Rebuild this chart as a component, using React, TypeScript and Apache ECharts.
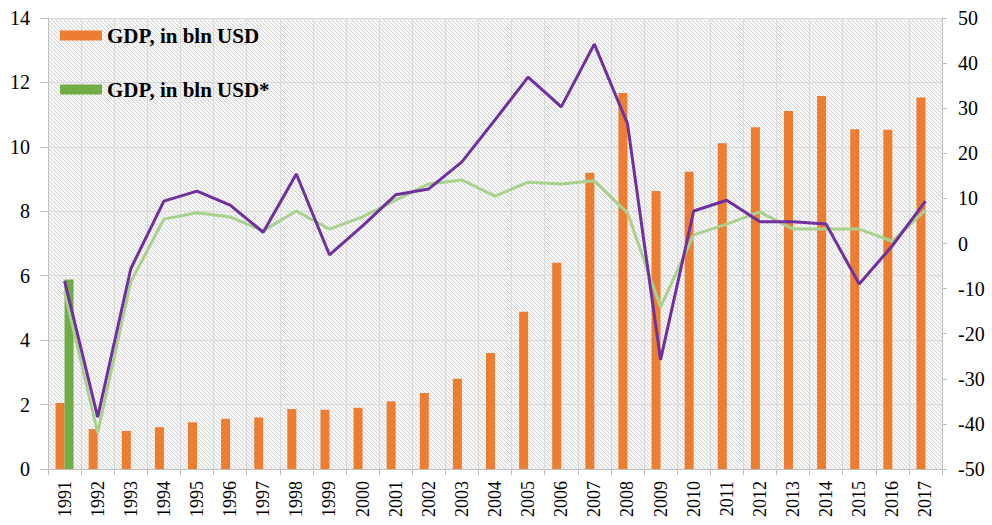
import React, { useEffect, useRef } from "react";
import * as echarts from "echarts";

const years = [
  "1991", "1992", "1993", "1994", "1995", "1996", "1997", "1998", "1999", "2000",
  "2001", "2002", "2003", "2004", "2005", "2006", "2007", "2008", "2009", "2010",
  "2011", "2012", "2013", "2014", "2015", "2016", "2017",
];

// GDP, in bln USD (left axis)
const gdp = [
  2.05, 1.24, 1.18, 1.3, 1.45, 1.56, 1.6, 1.86, 1.84, 1.9,
  2.1, 2.36, 2.8, 3.6, 4.88, 6.4, 9.2, 11.67, 8.63, 9.23,
  10.11, 10.61, 11.11, 11.58, 10.55, 10.53, 11.53,
];

// GDP, in bln USD* (left axis) — only 1991
const gdpStar = [
  5.88, null, null, null, null, null, null, null, null, null,
  null, null, null, null, null, null, null, null, null, null,
  null, null, null, null, null, null, null,
];

// purple line (right axis, %)
const purpleLine = [
  -8.3, -38.5, -5.6, 9.4, 11.6, 8.5, 2.5, 15.4, -2.5, 3.9,
  10.8, 12.1, 18.1, 27.4, 36.9, 30.3, 44.2, 26.6, -25.8, 7.2,
  9.6, 4.8, 4.8, 4.3, -9.0, -0.5, 9.4,
];

// light green line (right axis, %)
const greenLine = [
  -10.7, -42.0, -8.5, 5.4, 6.8, 5.9, 2.8, 7.2, 3.2, 5.9,
  9.6, 13.2, 14.1, 10.5, 13.6, 13.2, 13.9, 6.8, -14.1, 1.9,
  4.3, 7.0, 3.2, 3.2, 3.2, 0.5, 7.4,
];

const leftTicks = { min: 0, max: 14, interval: 2 };
const rightTicks = { min: -50, max: 50, interval: 10 };

function makeHatch(): HTMLCanvasElement {
  const c = document.createElement("canvas");
  c.width = 4;
  c.height = 4;
  const ctx = c.getContext("2d")!;
  ctx.fillStyle = "#f6f6f6";
  ctx.fillRect(0, 0, 4, 4);
  ctx.strokeStyle = "#d4d4d4";
  ctx.lineWidth = 1;
  ctx.beginPath();
  ctx.moveTo(-1, -1);
  ctx.lineTo(5, 5);
  ctx.moveTo(-1, 3);
  ctx.lineTo(1, 5);
  ctx.moveTo(3, -1);
  ctx.lineTo(5, 1);
  ctx.stroke();
  return c;
}

export default function App() {
  const ref = useRef<HTMLDivElement>(null);

  useEffect(() => {
    if (!ref.current) return;
    const chart = echarts.init(ref.current, undefined, { renderer: "svg" });
    const font = "'Liberation Serif', 'Times New Roman', serif";
    const axisLineColor = "#bfbfbf";
    chart.setOption({
      animation: false,
      backgroundColor: "#ffffff",
      textStyle: { fontFamily: font },
      grid: {
        left: 48,
        right: 50,
        top: 18,
        bottom: 56,
        show: true,
        borderWidth: 0,
        backgroundColor: { image: makeHatch(), repeat: "repeat" },
      },
      legend: {
        data: ["GDP, in bln USD", "GDP, in bln USD*"],
        orient: "vertical",
        left: 55,
        top: 20,
        itemGap: 33,
        itemWidth: 42,
        itemHeight: 10,
        icon: "rect",
        textStyle: {
          fontFamily: font,
          fontWeight: "bold",
          fontSize: 21,
          color: "#000",
        },
      },
      xAxis: {
        type: "category",
        data: years,
        boundaryGap: true,
        axisLine: { show: true, lineStyle: { color: axisLineColor, width: 1 } },
        axisTick: { show: true, length: 6, interval: 0, lineStyle: { color: axisLineColor } },
        splitLine: { show: true, interval: 0, lineStyle: { color: "#d9d9d9", width: 1 } },
        axisLabel: {
          interval: 0,
          rotate: 90,
          margin: 12,
          fontSize: 18,
          color: "#000",
          fontFamily: font,
        },
      },
      yAxis: [
        {
          type: "value",
          min: leftTicks.min,
          max: leftTicks.max,
          interval: leftTicks.interval,
          axisLine: { show: true, lineStyle: { color: axisLineColor } },
          axisTick: { show: true, length: 8, lineStyle: { color: axisLineColor } },
          splitLine: { show: true, lineStyle: { color: "#d9d9d9", width: 1 } },
          axisLabel: { margin: 18, fontSize: 20, color: "#000", fontFamily: font },
        },
        {
          type: "value",
          min: rightTicks.min,
          max: rightTicks.max,
          interval: rightTicks.interval,
          position: "right",
          axisLine: { show: true, lineStyle: { color: axisLineColor } },
          axisTick: { show: true, length: 5, lineStyle: { color: axisLineColor } },
          splitLine: { show: false },
          axisLabel: { margin: 16, fontSize: 20, color: "#000", fontFamily: font },
        },
      ],
      series: [
        {
          name: "GDP, in bln USD",
          type: "bar",
          data: gdp,
          barWidth: 9,
          barGap: "0%",
          itemStyle: { color: "#ed7d31" },
          yAxisIndex: 0,
        },
        {
          name: "GDP, in bln USD*",
          type: "bar",
          data: gdpStar,
          barWidth: 9,
          barGap: "0%",
          itemStyle: { color: "#70ad47" },
          yAxisIndex: 0,
        },
        {
          name: "growth2",
          type: "line",
          data: greenLine,
          yAxisIndex: 1,
          showSymbol: false,
          symbol: "none",
          lineStyle: { color: "#a9d18e", width: 3 },
          z: 3,
        },
        {
          name: "growth1",
          type: "line",
          data: purpleLine,
          yAxisIndex: 1,
          showSymbol: false,
          symbol: "none",
          lineStyle: { color: "#7030a0", width: 3 },
          z: 4,
        },
      ],
    });
    return () => chart.dispose();
  }, []);

  return (
    <div
      ref={ref}
      style={{ position: "fixed", left: 0, top: 0, width: 992, height: 525 }}
    />
  );
}
